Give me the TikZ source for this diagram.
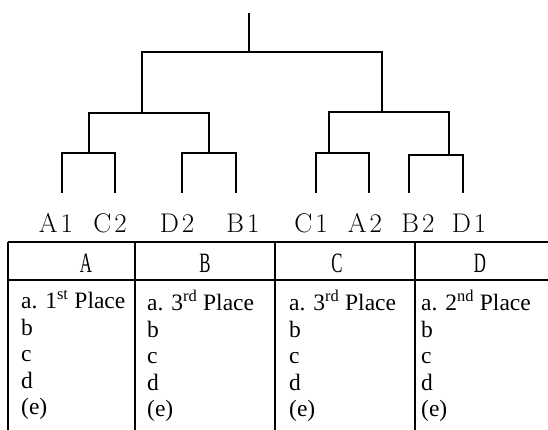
\documentclass[tikz,border=0pt]{standalone}
\usepackage{fontspec}
\usepackage{tikz}
\newfontfamily\tnr{Liberation Serif}

\begin{document}
\begin{tikzpicture}[x=1pt,y=-1pt,
  branch/.style={line width=1.3pt},
  rule/.style={line width=1.2pt},
  leaf/.style={anchor=base,font=\fontsize{27}{27}\selectfont},
  head/.style={anchor=base,xscale=0.6,font=\tnr\fontsize{28}{28}\selectfont},
  cell/.style={anchor=north west,align=left,inner sep=0pt,font=\tnr\fontsize{23.5}{26.5}\selectfont}]
\useasboundingbox (0,0) rectangle (548,429);

% bracket points
\coordinate (top) at (249,13);
\coordinate (root) at (249,52);
\coordinate (m1) at (142,113);
\coordinate (m2) at (382,112);
\coordinate (n1) at (89,153);
\coordinate (n2) at (209,153);
\coordinate (n3) at (329,153);
\coordinate (n4) at (449,155);
\coordinate (a1) at (62,193);
\coordinate (c2) at (115,193);
\coordinate (d2) at (182,193);
\coordinate (b1) at (236,193);
\coordinate (c1) at (316,193);
\coordinate (a2) at (369,193);
\coordinate (b2) at (409,193);
\coordinate (d1) at (463,193);

\draw[branch] (root) -- (top);
\draw[branch] (m1) |- (root) -| (m2);
\draw[branch] (n1) |- (m1) -| (n2);
\draw[branch] (n3) |- (m2) -| (n4);
\draw[branch] (a1) |- (n1) -| (c2);
\draw[branch] (d2) |- (n2) -| (b1);
\draw[branch] (c1) |- (n3) -| (a2);
\draw[branch] (b2) |- (n4) -| (d1);

% seeds
\node[leaf] (la1) at (56,232) {A\kern3pt1};
\node[leaf] (lc2) at (110,232) {C\kern3pt2};
\node[leaf] (ld2) at (177,232) {D\kern3pt2};
\node[leaf] (lb1) at (243,232) {B\kern3pt1};
\node[leaf] (lc1) at (311,232) {C\kern3pt1};
\node[leaf] (la2) at (365,232) {A\kern3pt2};
\node[leaf] (lb2) at (418,232) {B\kern3pt2};
\node[leaf] (ld1) at (469,232) {D\kern3pt1};

% table
\draw[rule] (8,242) -- (548,242);
\draw[line width=2.5pt] (8,280) -- (548,280);
\foreach \x in {8,135,275,415}
  \draw[rule] (\x,242) -- (\x,432);

\node[head] (hA) at (86,272) {A};
\node[head] (hB) at (205,272) {B};
\node[head] (hC) at (337,272) {C};
\node[head] (hD) at (480,272) {D};

\node[cell] (cA) at (21,290) {a. 1\textsuperscript{st} Place\\b\\c\\d\\(e)};
\node[cell] (cB) at (147,290) {a. 3\textsuperscript{rd} Place\\b\\c\\d\\(e)};
\node[cell] (cC) at (289,290) {a. 3\textsuperscript{rd} Place\\b\\c\\d\\(e)};
\node[cell] (cD) at (421,290) {a. 2\textsuperscript{nd} Place\\b\\c\\d\\(e)};
\end{tikzpicture}
\end{document}
